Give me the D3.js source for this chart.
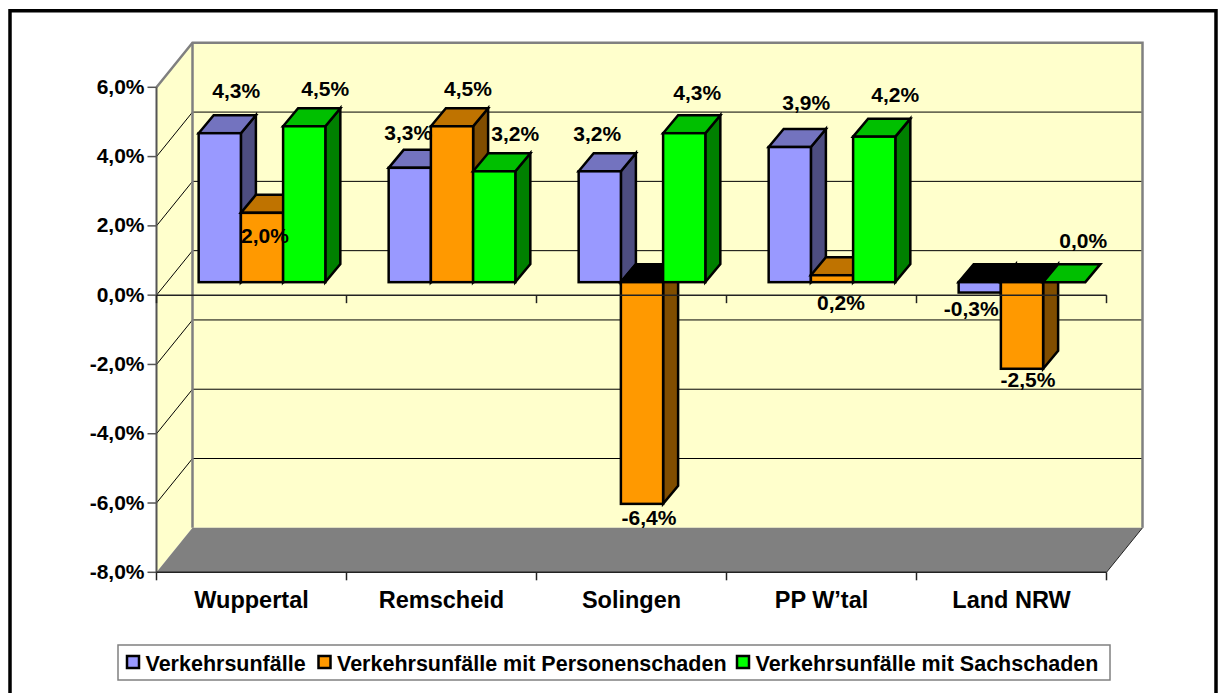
<!DOCTYPE html>
<html><head><meta charset="utf-8">
<script src="https://cdnjs.cloudflare.com/ajax/libs/d3/7.8.5/d3.min.js"></script>
<style>html,body{margin:0;padding:0;background:#fff}svg{display:block}text{font-family:"Liberation Sans",Arial,sans-serif;font-weight:bold;fill:#000}</style>
</head><body><svg id="c" width="1219" height="693"></svg>
<script>
const categories = ["Wuppertal","Remscheid","Solingen","PP W\u2019tal","Land NRW"];
const seriesNames = ["Verkehrsunfälle","Verkehrsunfälle mit Personenschaden","Verkehrsunfälle mit Sachschaden"];
const verkehrsunfaelle = [4.3,3.3,3.2,3.9,-0.3];
const personenschaden = [2.0,4.5,-6.4,0.2,-2.5];
const sachschaden = [4.5,3.2,4.3,4.2,0.0];
const yTicks = [-8,-6,-4,-2,0,2,4,6];
const seriesValues = [verkehrsunfaelle,personenschaden,sachschaden];

// styling and layout
const front = ["#9999FF","#FF9900","#00FF00"];
const topFace = ["#7373BF","#BF7300","#00BF00"];
const sideFace = ["#4D4D80","#804D00","#008000"];
const labelNudge = [
  [[16.5,-43],[-1.5,-35],[-2.5,-38],[16.5,-45],[-8.5,16]],
  [[3,23],[16,-38],[7,14],[9,27],[6,11]],
  [[21,-38],[21,-38],[13,-41],[21,-42],[19,-42]]
];
const W={dx:36,dy:-44.5};      // back wall offset
const B={dx:10.5,dy:-13};      // bar front plane offset
const D={dx:15,dy:-18};        // bar depth

const svg=d3.select("#c");
const y=d3.scaleLinear().domain([-8,6]).range([572.3,87.3]);
const x0=d3.scaleBand().domain(categories).range([156.5,1106.5]);
const x1=d3.scaleBand().domain(d3.range(3)).range([0,x0.bandwidth()]).paddingInner(0).paddingOuter(0.75);
const fmt=v=>d3.format(".1f")(v).replace(".",",").replace("\u2212","-")+"%";
const poly=pts=>pts.map(p=>p.join(",")).join(" ");

// outer frame
svg.append("path").attr("d","M10,693V10.7H1216V693").attr("fill","none").attr("stroke","#000").attr("stroke-width",3.5);

// walls
const xL=x0.range()[0], xR=x0.range()[1], yT=y(6), yB=y(-8);
svg.append("polygon").attr("points",poly([[xL,yT],[xL+W.dx,yT+W.dy],[xL+W.dx,yB+W.dy],[xL,yB]])).attr("fill","#FFFFCC");
svg.append("rect").attr("x",xL+W.dx).attr("y",yT+W.dy).attr("width",xR-xL).attr("height",yB-yT).attr("fill","#FFFFCC");
svg.append("polygon").attr("points",poly([[xL,yB],[xL+W.dx,yB+W.dy],[xR+W.dx,yB+W.dy],[xR,yB]])).attr("fill","#808080");

// gridlines
yTicks.filter(t=>t>-8&&t<6).forEach(t=>{
  svg.append("polyline").attr("points",poly([[xL,y(t)],[xL+W.dx,y(t)+W.dy],[xR+W.dx,y(t)+W.dy]]))
    .attr("fill","none").attr("stroke","#000").attr("stroke-width",1);
});
// wall edges
svg.append("polyline").attr("points",poly([[xL,yT],[xL+W.dx,yT+W.dy],[xR+W.dx,yT+W.dy],[xR+W.dx,yB+W.dy]]))
  .attr("fill","none").attr("stroke","#808080").attr("stroke-width",2.5);
svg.append("line").attr("x1",xL+W.dx).attr("x2",xL+W.dx).attr("y1",yT+W.dy).attr("y2",yB+W.dy).attr("stroke","#808080").attr("stroke-width",2.5);
svg.append("line").attr("x1",xR).attr("x2",xR+W.dx).attr("y1",yB).attr("y2",yB+W.dy).attr("stroke","#222").attr("stroke-width",1);

// bars
const bars=svg.append("g").attr("stroke","#000").attr("stroke-width",2.5).attr("stroke-linejoin","miter");
const y0px=y(0)+B.dy;
const barX=(c,s)=>x0(c)+x1(s)+B.dx;
const barY=v=>y(v)+B.dy;
const bw=x1.bandwidth();
categories.forEach((c,ci)=>{
  [0,1,2].forEach(s=>{
    const v=seriesValues[s][ci], xa=barX(c,s), xb=xa+bw, ya=barY(v);
    const hi=Math.min(ya,y0px), lo=Math.max(ya,y0px);
    if(hi!==lo) bars.append("polygon").attr("points",poly([[xb,hi],[xb+D.dx,hi+D.dy],[xb+D.dx,lo+D.dy],[xb,lo]])).attr("fill",sideFace[s]);
    bars.append("polygon").attr("points",poly([[xa,hi],[xa+D.dx,hi+D.dy],[xb+D.dx,hi+D.dy],[xb,hi]])).attr("fill",v<0?"#000":topFace[s]);
    if(hi!==lo) bars.append("rect").attr("x",xa).attr("y",hi).attr("width",bw).attr("height",lo-hi).attr("fill",front[s]);
  });
});

// axes on top
const ax=svg.append("g").attr("stroke","#222").attr("stroke-width",1.5);
ax.append("line").attr("x1",xL).attr("x2",xL).attr("y1",yT).attr("y2",yB).attr("stroke","#555").attr("stroke-width",2);
yTicks.forEach(t=>{
  ax.append("line").attr("x1",xL-9).attr("x2",xL).attr("y1",y(t)).attr("y2",y(t)).attr("stroke","#555");
  svg.append("text").attr("x",xL-12).attr("y",y(t)-1).attr("dy","0.36em").attr("text-anchor","end").attr("font-size",21).text(fmt(t));
});
[y(0),yB].forEach(py=>{
  ax.append("line").attr("x1",xL).attr("x2",xR).attr("y1",py).attr("y2",py);
  categories.forEach(c=>ax.append("line").attr("x1",x0(c)).attr("x2",x0(c)).attr("y1",py).attr("y2",py+8));
  ax.append("line").attr("x1",xR).attr("x2",xR).attr("y1",py).attr("y2",py+8);
});
categories.forEach(c=>{
  svg.append("text").attr("x",x0(c)+x0.bandwidth()/2).attr("y",600).attr("dy","0.36em").attr("text-anchor","middle").attr("font-size",23.5).text(c);
});

// data labels
categories.forEach((c,ci)=>{
  [0,1,2].forEach(s=>{
    const v=seriesValues[s][ci], n=labelNudge[s][ci];
    svg.append("text").attr("x",barX(c,s)+bw/2+n[0]).attr("y",barY(v)+n[1]).attr("dy","0.36em")
      .attr("text-anchor","middle").attr("font-size",21).text(fmt(v));
  });
});

// legend
svg.append("rect").attr("x",118).attr("y",645).attr("width",992).attr("height",35).attr("fill","#fff").attr("stroke","#808080").attr("stroke-width",1.5);
const legendX=[127,318.5,737];
seriesNames.forEach((n,i)=>{
  svg.append("rect").attr("x",legendX[i]).attr("y",656).attr("width",12).attr("height",12).attr("fill",front[i]).attr("stroke","#000").attr("stroke-width",2.5);
  svg.append("text").attr("x",legendX[i]+18.5).attr("y",663).attr("dy","0.36em").attr("font-size",21.5).text(n);
});
</script></body></html>
